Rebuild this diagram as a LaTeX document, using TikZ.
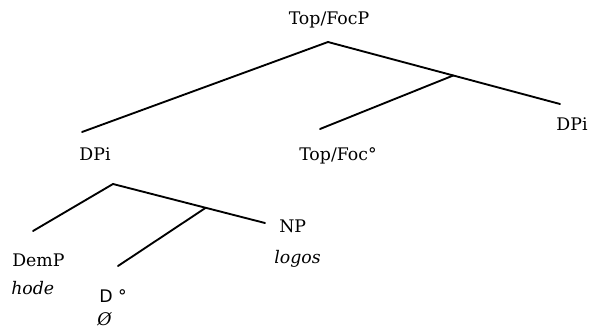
\documentclass[tikz,border=0pt]{standalone}
\usepackage{fontspec}
\setmainfont{DejaVu Serif}
\newfontfamily\sansD{DejaVu Sans}
\usetikzlibrary{calc}
\begin{document}
\begin{tikzpicture}[x=0.75pt,y=-0.75pt,
  lbl/.style={inner sep=0pt, font=\fontsize{13}{15}\selectfont},
  br/.style={line width=1.4pt, line cap=round}]
\useasboundingbox[fill=white] (0,0) rectangle (591,328);
% labels
\node[lbl, anchor=base] (topfocp) at (329,25) {Top/FocP};
\node[lbl, anchor=base] (dpl) at (95,160) {DPi};
\node[lbl, anchor=base] (topfoc) at (338,160) {Top/Foc°};
\node[lbl, anchor=base] (dpr) at (572,130) {DPi};
\node[lbl, anchor=base west] (demp) at (12,266) {DemP};
\node[lbl, anchor=base west] (hode) at (11,294) {\itshape hode};
\node[lbl, anchor=base west] (np) at (279,232) {NP};
\node[lbl, anchor=base west] (logos) at (274,263) {\itshape logos};
\node[lbl, anchor=base west] (d) at (99,302) {{\sansD D} °};
\node[lbl, anchor=base west] (null) at (97,325) {\itshape Ø};
% branch points
\coordinate (a1) at (328,42);
\coordinate (l1) at (82,132);
\coordinate (r1) at (560,104);
\coordinate (j1) at ($(a1)!0.54!(r1)$);
\coordinate (m1) at (320,129);
\coordinate (a2) at (113,184);
\coordinate (l2) at (33,231);
\coordinate (r2) at (265,223);
\coordinate (j2) at ($(a2)!0.61!(r2)$);
\coordinate (m2) at (118,266);
% branches
\draw[br] (a1) -- (l1);
\draw[br] (a1) -- (r1);
\draw[br] (j1) -- (m1);
\draw[br] (a2) -- (l2);
\draw[br] (a2) -- (r2);
\draw[br] (j2) -- (m2);
\end{tikzpicture}
\end{document}
